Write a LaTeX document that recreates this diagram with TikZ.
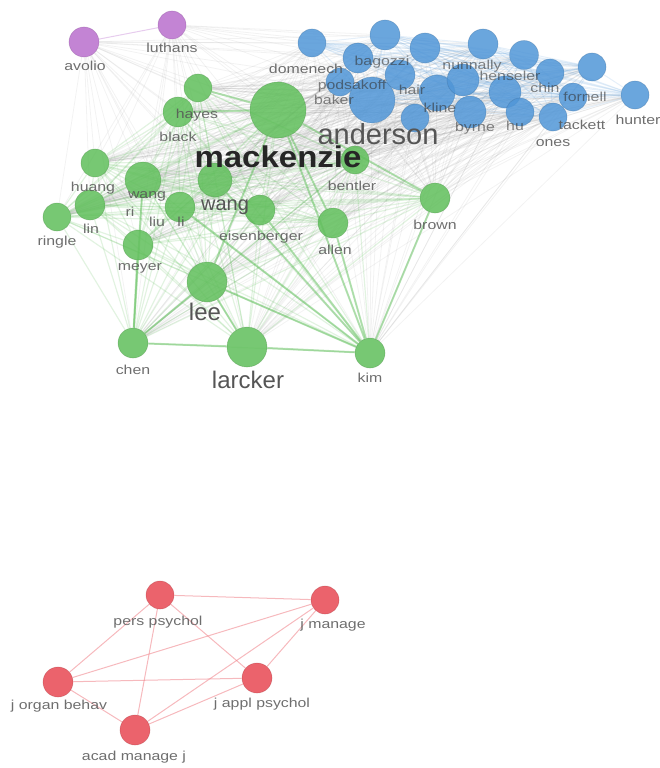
\documentclass[tikz,border=0pt]{standalone}
\usepackage{fontspec}
\setmainfont{Liberation Sans}
\definecolor{gnc}{RGB}{95,190,90}
\definecolor{bnc}{RGB}{80,150,215}
\definecolor{pnc}{RGB}{185,110,205}
\definecolor{rnc}{RGB}{232,72,82}
\definecolor{labc}{RGB}{85,85,85}
\newcommand\hs[1]{\scalebox{1.22}[1]{#1}}
\pgfdeclarelayer{bg}
\pgfsetlayers{bg,main}
\begin{document}
\begin{tikzpicture}[x=1pt,y=-1pt,
  nd/.style={circle,inner sep=0pt,minimum size=#1,fill opacity=0.85,draw opacity=0.35,line width=0.6pt},
  gn/.style={nd=#1,fill=gnc,draw=gnc!70!black},
  bn/.style={nd=#1,fill=bnc,draw=bnc!70!black},
  pn/.style={nd=#1,fill=pnc,draw=pnc!70!black},
  rn/.style={nd=#1,fill=rnc,draw=rnc!70!black},
  lab/.style={text=labc,font=\fontsize{13}{13}\selectfont,inner sep=0pt,opacity=0.85},
  blab/.style={text=black!80,font=\fontsize{13}{13}\selectfont,inner sep=0pt,opacity=0.6},
  gedge/.style={draw=gnc,opacity=0.18,line width=1.2pt},
  gstrong/.style={draw=gnc,opacity=0.42,line width=2pt},
  grayedge/.style={draw=black!45,opacity=0.11,line width=0.8pt},
  redge/.style={draw=rnc!70,opacity=0.55,line width=1pt}]
\useasboundingbox (0,0) rectangle (659,768);

% ---------- purple ----------
\node[pn=30pt] (avolio) at (84,42) {};
\node[pn=28pt] (luthans) at (172,25) {};

% ---------- blue ----------
\node[bn=28pt] (b1) at (312,43) {};
\node[bn=30pt] (b2) at (385,35) {};
\node[bn=30pt] (b3) at (358,58) {};
\node[bn=30pt] (b4) at (425,48) {};
\node[bn=30pt] (b5) at (483,44) {};
\node[bn=29pt] (b6) at (524,55) {};
\node[bn=28pt] (b7) at (550,73) {};
\node[bn=28pt] (b8) at (592,67) {};
\node[bn=28pt] (b9) at (635,95) {};
\node[bn=28pt] (b10) at (573,97) {};
\node[bn=28pt] (b11) at (553,117) {};
\node[bn=46pt] (anders) at (372,100) {};
\node[bn=36pt] (b13) at (437,93) {};
\node[bn=32pt] (b14) at (463,80) {};
\node[bn=32pt] (b15) at (505,92) {};
\node[bn=32pt] (b16) at (470,112) {};
\node[bn=30pt] (b17) at (400,75) {};
\node[bn=28pt] (b18) at (340,82) {};
\node[bn=28pt] (b19) at (520,112) {};
\node[bn=28pt] (b20) at (415,118) {};

% ---------- green ----------
\node[gn=56pt] (mack) at (278,110) {};
\node[gn=28pt] (hayes) at (198,88) {};
\node[gn=30pt] (black) at (178,112) {};
\node[gn=28pt] (huang) at (95,163) {};
\node[gn=36pt] (wang1) at (143,180) {};
\node[gn=30pt] (lin) at (90,205) {};
\node[gn=28pt] (ringle) at (57,217) {};
\node[gn=30pt] (li) at (180,207) {};
\node[gn=34pt] (wang2) at (215,180) {};
\node[gn=30pt] (eisen) at (260,210) {};
\node[gn=30pt] (meyer) at (138,245) {};
\node[gn=40pt] (lee) at (207,282) {};
\node[gn=30pt] (chen) at (133,343) {};
\node[gn=40pt] (larcker) at (247,347) {};
\node[gn=30pt] (allen) at (333,223) {};
\node[gn=30pt] (brown) at (435,198) {};
\node[gn=30pt] (kim) at (370,353) {};
\node[gn=28pt] (bentler) at (355,160) {};

% ---------- red ----------
\node[rn=28pt] (pers) at (160,595) {};
\node[rn=28pt] (jman) at (325,600) {};
\node[rn=30pt] (jorg) at (58,682) {};
\node[rn=30pt] (jappl) at (257,678) {};
\node[rn=30pt] (acad) at (135,730) {};

\begin{pgfonlayer}{bg}
  % gray links from blue and purple to green
  \foreach \a in {avolio,luthans,b1,b2,b3,b4,b5,b6,b7,b8,b9,b10,b11,anders,b13,b14,b15,b16,b17,b18,b19,b20}
    \foreach \b in {mack,hayes,black,huang,wang1,lin,ringle,li,wang2,eisen,meyer,lee,chen,larcker,allen,brown,kim,bentler}
      \draw[grayedge] (\a) -- (\b);
  \foreach \a in {avolio,luthans}
    \foreach \b in {b1,b2,b3,b5,b8,anders,b13}
      \draw[grayedge] (\a) -- (\b);
  \draw[draw=pnc,opacity=0.35,line width=1pt] (avolio) -- (luthans);
  % blue-blue links
  \foreach \a [count=\i] in {b1,b2,b3,b4,b5,b6,b7,b8,b9,b10,b11,anders,b13,b14,b15,b16}
    \foreach \b [count=\j] in {b1,b2,b3,b4,b5,b6,b7,b8,b9,b10,b11,anders,b13,b14,b15,b16}
      {\ifnum\j>\i \draw[draw=bnc,opacity=0.15,line width=1pt] (\a) -- (\b);\fi}
  % green links among green
  \foreach \a [count=\i] in {mack,hayes,black,huang,wang1,lin,ringle,li,wang2,eisen,meyer,lee,chen,larcker,allen,brown,kim,bentler}
    \foreach \b [count=\j] in {mack,hayes,black,huang,wang1,lin,ringle,li,wang2,eisen,meyer,lee,chen,larcker,allen,brown,kim,bentler}
      {\ifnum\j>\i \draw[gedge] (\a) -- (\b);\fi}
  \foreach \a/\b in {chen/larcker,larcker/kim,lee/kim,chen/lee,wang2/kim,mack/kim,li/kim,eisen/kim,allen/kim,brown/kim,mack/brown,mack/allen,lee/larcker,wang1/chen,meyer/chen,mack/lee,black/mack,hayes/mack}
    \draw[gstrong] (\a) -- (\b);
  % red links
  \foreach \a/\b in {pers/jman,pers/jorg,pers/acad,pers/jappl,jman/jorg,jman/jappl,jman/acad,jorg/jappl,jorg/acad,acad/jappl}
    \draw[redge] (\a) -- (\b);
\end{pgfonlayer}

% ---------- labels ----------
\node[lab] (lavolio) at (85,66) {\hs{avolio}};
\node[lab] (lluthans) at (172,48) {\hs{luthans}};
\node[lab] (ldomen) at (306,69) {\hs{domenech}};
\node[blab] (lbaker) at (334,100) {\hs{baker}};
\node[blab] (lb3) at (382,62) {\hs{bagozzi}};
\node[blab] (lb18) at (352,86) {\hs{podsakoff}};
\node[blab] (lb17) at (412,90) {\hs{hair}};
\node[blab] (lb14) at (472,66) {\hs{nunnally}};
\node[blab] (lb15) at (510,76) {\hs{henseler}};
\node[blab] (lb13) at (440,108) {\hs{kline}};
\node[blab] (lb16) at (475,128) {\hs{byrne}};
\node[blab] (lb10) at (585,97) {\hs{fornell}};
\node[blab] (lb7) at (545,88) {\hs{chin}};
\node[blab] (lb19) at (515,126) {\hs{hu}};
\node[lab] (lhunter) at (638,120) {\hs{hunter}};
\node[lab] (ltack) at (582,125) {\hs{tackett}};
\node[lab] (lones) at (553,143) {\hs{ones}};
\node[text=labc,font=\fontsize{29}{29}\selectfont,inner sep=0pt] (landers) at (378,134) {anderson};
\node[text=black!85,font=\bfseries\fontsize{30}{30}\selectfont,inner sep=0pt] (lmack) at (278,157) {\scalebox{1.1}[1]{mackenzie}};
\node[lab] (lhayes) at (197,115) {\hs{hayes}};
\node[lab] (lblack) at (178,137) {\hs{black}};
\node[lab] (lhuang) at (93,188) {\hs{huang}};
\node[lab] (lwang1) at (147,196) {\hs{wang}};
\node[lab] (lri) at (130,212) {\hs{ri}};
\node[lab] (lliu) at (157,222) {\hs{liu}};
\node[lab] (lli) at (181,222) {\hs{li}};
\node[lab] (llin) at (91,229) {\hs{lin}};
\node[lab] (lringle) at (57,242) {\hs{ringle}};
\node[text=labc,font=\fontsize{20}{20}\selectfont,inner sep=0pt] (lwang2) at (225,207) {wang};
\node[lab] (leisen) at (261,237) {\hs{eisenberger}};
\node[lab] (lmeyer) at (140,268) {\hs{meyer}};
\node[text=labc,font=\fontsize{24}{24}\selectfont,inner sep=0pt] (llee) at (205,312) {lee};
\node[lab] (lchen) at (133,370) {\hs{chen}};
\node[text=labc,font=\fontsize{24}{24}\selectfont,inner sep=0pt] (llarcker) at (248,380) {larcker};
\node[lab] (lallen) at (335,250) {\hs{allen}};
\node[lab] (lbrown) at (435,225) {\hs{brown}};
\node[lab] (lkim) at (370,378) {\hs{kim}};
\node[lab] (lbentler) at (352,186) {\hs{bentler}};

\node[lab] (lpers) at (158,622) {\hs{pers psychol}};
\node[lab] (ljman) at (333,625) {\hs{j manage}};
\node[lab] (ljorg) at (59,706) {\hs{j organ behav}};
\node[lab] (ljappl) at (262,704) {\hs{j appl psychol}};
\node[lab] (lacad) at (134,757) {\hs{acad manage j}};
\end{tikzpicture}
\end{document}
